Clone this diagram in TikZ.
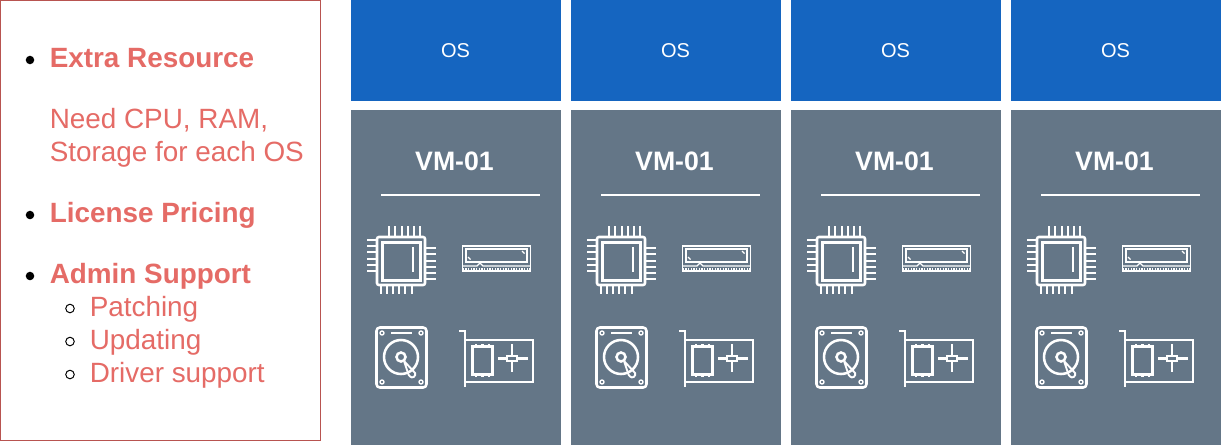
\documentclass[tikz,border=0pt]{standalone}
\usepackage{fontspec}
\setmainfont{Liberation Sans}
\usepackage{xcolor}
\usetikzlibrary{arrows.meta, positioning, calc}
\definecolor{cred}{RGB}{184,84,80}
\definecolor{ctext}{RGB}{229,107,102}
\definecolor{cblue}{RGB}{21,101,192}
\definecolor{cslate}{RGB}{100,118,135}

\begin{document}
\begin{tikzpicture}[
    x=0.75pt, y=-0.75pt,
    sidebox/.style={draw=cred, line width=0.75pt, fill=white, minimum width=240pt, minimum height=330pt, outer sep=0pt},
    osbox/.style={fill=cblue, text=white, minimum width=157.5pt, minimum height=75.75pt, outer sep=0pt, inner sep=0pt, font=\fontsize{15}{18}\selectfont},
    vmbox/.style={fill=cslate, minimum width=157.5pt, minimum height=251.25pt, outer sep=0pt},
    vmlabel/.style={text=white, inner sep=0pt, font=\fontsize{20}{24}\selectfont\bfseries},
    headtext/.style={text=ctext, anchor=base west, inner sep=0pt, font=\fontsize{20.9}{25}\selectfont\bfseries},
    bodytext/.style={text=ctext, anchor=base west, inner sep=0pt, font=\fontsize{20.9}{25}\selectfont},
    dotmark/.style={circle, fill=black, minimum size=6.4pt, inner sep=0pt},
    ringmark/.style={circle, draw=black, line width=0.75pt, minimum size=6.4pt, inner sep=0pt},
    icon/.style={draw=white, line width=1.9pt},
    thinicon/.style={draw=white, line width=1pt},
    pics/vmicons/.style={code={
        % cpu
        \draw[icon, rounded corners=1.5pt] (27,237) rectangle (75,285);
        \draw[icon] (32.5,242.5) rectangle (70.5,280.5);
        \draw[icon] (63,247) -- (63,272);
        \foreach \a in {39,45,52,58,64,70} \draw[icon] (\a,226) -- (\a,237);
        \foreach \a in {31,37,43,49,55,62} \draw[icon] (\a,285) -- (\a,294);
        \foreach \a in {240,246,252,259,265,271} \draw[icon] (17,\a) -- (27,\a);
        \foreach \a in {248,254,261,267,273,279} \draw[icon] (75,\a) -- (86,\a);
        % ram
        \draw[thinicon] (112.5,246) -- (180.5,246) -- (180.5,271) -- (112.5,271) -- cycle;
        \draw[icon] (116,249) rectangle (177,262);
        \draw[thinicon] (112.5,266) -- (127,266) -- (130,263) -- (133,266) -- (180.5,266);
        \draw[thinicon, line width=1.8pt, dash pattern=on 1.2pt off 0.8pt] (112.5,269) -- (180.5,269);
        \draw[thinicon] (172,251) -- (174.5,253.5);
        \draw[thinicon] (118,257) -- (120.5,259.5);
        % hdd
        \draw[icon, rounded corners=2.5pt] (26.5,327.5) rectangle (76.5,387.5);
        \foreach \a/\b in {32/333,71/333,32/382,71/382} \draw[thinicon] (\a,\b) circle (2);
        \draw[thinicon] (41,333) -- (62,333);
        \draw[icon] (51,357) circle (17);
        \draw[icon] (51,357) circle (4.5);
        \draw[thinicon, line width=1.4pt, rounded corners=1pt] (54,361) -- (66,374) -- (63,378) -- (59,376) -- cycle;
        % nic
        \draw[icon] (109,331) -- (115,331) -- (115,387);
        \draw[icon] (115,340) -- (183,340) -- (183,382) -- (115,382);
        \draw[icon] (122.5,346.5) rectangle (142.5,374.5);
        \foreach \a in {126,132.5,139} {
            \draw[icon] (\a,344) -- (\a,346);
            \draw[icon] (\a,375) -- (\a,377);
        }
        \draw[icon] (157,356) rectangle (167,361);
        \draw[icon] (148,358.5) -- (157,358.5);
        \draw[icon] (167,358.5) -- (178,358.5);
        \draw[icon] (162,344) -- (162,356);
        \draw[icon] (162,361) -- (162,372);
    }},
]
    \useasboundingbox (0,0) rectangle (1221,446);
    \node[sidebox] (side) at (160.5,220.5) {};

    \node[dotmark] (dot1) at (30,60) {};
    \node[headtext] (extra) at (49.5,67.5) {Extra Resource};
    \node[bodytext] (need) at (49.5,128.5) {Need CPU, RAM,};
    \node[bodytext] (storage) at (49.5,161.5) {Storage for each OS};
    \node[dotmark] (dot2) at (30,215) {};
    \node[headtext] (license) at (49.5,222.5) {License Pricing};
    \node[dotmark] (dot3) at (30,276) {};
    \node[headtext] (admin) at (49.5,283.5) {Admin Support};
    \node[ringmark] (ring1) at (70,308.5) {};
    \node[bodytext] (patching) at (89.5,316.5) {Patching};
    \node[ringmark] (ring2) at (70,341.5) {};
    \node[bodytext] (updating) at (89.5,349.5) {Updating};
    \node[ringmark] (ring3) at (70,374.5) {};
    \node[bodytext] (driver) at (89.5,382.5) {Driver support};

    \foreach \n/\xx in {1/350, 2/570, 3/790, 4/1010} {
        \node[osbox] (os\n) at (\xx+105.5,50.5) {OS};
        \node[vmbox] (vm\n) at (\xx+105.5,277.5) {};
        \node[vmlabel] (name\n) at (\xx+104.5,161) {VM-01};
        \coordinate (ruleL\n) at (\xx+31,195);
        \coordinate (ruleR\n) at (\xx+190,195);
        \draw[white, line width=1.1pt] (ruleL\n) -- (ruleR\n);
        \pic at (\xx,0) {vmicons};
    }
\end{tikzpicture}
\end{document}
